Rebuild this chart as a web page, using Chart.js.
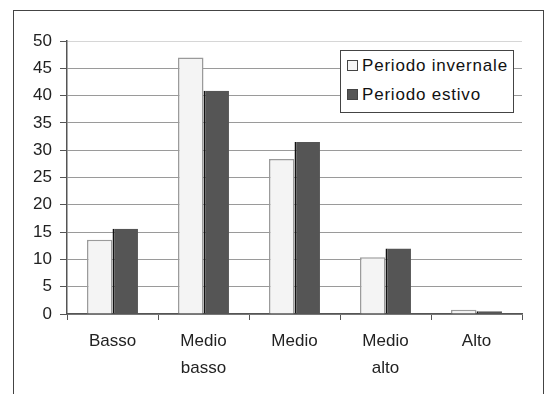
<!DOCTYPE html>
<html>
<head>
<meta charset="utf-8">
<script src="https://cdn.jsdelivr.net/npm/chart.js@4"></script>
<style>
    body { margin: 0; background: #fff; }
    .wrap { position: relative; width: 551px; height: 394px; overflow: hidden; }
    .frame { position: absolute; left: 13px; top: 10px; width: 529px; height: 400px; border: 1px solid #444; }
    canvas { position: absolute; left: 0; top: 0; }
    .legend {
        position: absolute; left: 340px; top: 50px; width: 172px; height: 61px;
        border: 1px solid #444; background: #fff;
        font-family: "Liberation Sans", Arial, sans-serif; font-size: 17px; color: #111;
        letter-spacing: 0.8px;
    }
    .legend div { position: absolute; left: 6px; white-space: nowrap; }
    .legend span { display: inline-block; width: 9px; height: 9px; margin-right: 4px; border: 1px solid #444; vertical-align: 0px; }
</style>
</head>
<body>
<div class="wrap">
    <div class="frame"></div>
    <canvas id="chart" width="551" height="394"></canvas>
    <div class="legend" id="legend"></div>
</div>
<script>
const categories = [["Basso"], ["Medio", "basso"], ["Medio"], ["Medio", "alto"], ["Alto"]];
const seriesNames = ["Periodo invernale", "Periodo estivo"];
const winterValues = [13.6, 47.0, 28.4, 10.4, 0.8];
const summerValues = [15.6, 40.9, 31.5, 12.0, 0.5];
const yTicks = [0, 5, 10, 15, 20, 25, 30, 35, 40, 45, 50];

const fills = ['#f4f4f4', '#555555'];

const ctx = document.getElementById('chart');

Chart.defaults.font.family = '"Liberation Sans", Arial, sans-serif';
Chart.defaults.font.size = 17;
Chart.defaults.color = '#222';

new Chart(ctx, {
    type: 'bar',
    data: {
        labels: categories,
        datasets: [{
            label: seriesNames[0],
            data: winterValues,
            backgroundColor: fills[0],
            borderColor: '#9a9a9a',
            borderWidth: 1.5,
            borderSkipped: 'bottom'
        }, {
            label: seriesNames[1],
            data: summerValues,
            backgroundColor: fills[1],
            borderColor: '#111',
            borderWidth: { left: 2, top: 0, right: 0, bottom: 0 },
            borderSkipped: 'bottom'
        }]
    },
    options: {
        responsive: false,
        animation: false,
        layout: { padding: { top: 41, right: 29, left: 0, bottom: 0 } },
        datasets: {
            bar: { barPercentage: 1, categoryPercentage: 0.56 }
        },
        plugins: {
            legend: { display: false },
            tooltip: { enabled: false }
        },
        scales: {
            x: {
                offset: true,
                afterFit: (scale) => { scale.height = 80; },
                grid: {
                    offset: true,
                    color: (c) => c.index === categories.length ? '#cfcfcf' : 'rgba(0,0,0,0)',
                    tickColor: '#555',
                    tickLength: 6,
                    lineWidth: 1
                },
                border: { color: '#555', width: 1.5 },
                ticks: { padding: 8, color: '#222', font: { lineHeight: 1.6 } }
            },
            y: {
                min: 0,
                max: 50,
                afterFit: (scale) => { scale.width = 67; },
                afterBuildTicks: (scale) => { scale.ticks = yTicks.map(v => ({ value: v })); },
                grid: {
                    color: (c) => c.tick && c.tick.value === 50 ? '#d6d6d6' : '#9a9a9a',
                    tickColor: '#555',
                    tickLength: 7,
                    lineWidth: 1
                },
                border: { color: '#555', width: 1.5 },
                ticks: { padding: 8, color: '#222' }
            }
        }
    }
});

const legend = document.getElementById('legend');
seriesNames.forEach((name, i) => {
    const row = document.createElement('div');
    row.style.top = (i === 0 ? 5 : 34) + 'px';
    row.innerHTML = '<span style="background:' + fills[i] + '"></span>' + name;
    legend.appendChild(row);
});
</script>
</body>
</html>
